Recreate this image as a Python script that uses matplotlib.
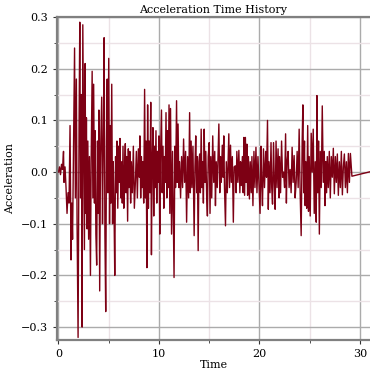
import matplotlib
matplotlib.use("Agg")
import matplotlib.pyplot as plt
from matplotlib.ticker import MultipleLocator

time = [0.00,0.10,0.20,0.30,0.40,0.50,0.55,0.65,0.75,0.85,0.95,1.05,1.15,1.25,1.32,1.40,1.50,1.60,1.68,1.78,
1.85,1.95,2.05,2.12,2.20,2.28,2.35,2.42,2.50,2.58,2.65,2.72,2.78,2.85,2.92,3.00,3.08,3.18,3.25,3.35,
3.42,3.50,3.58,3.65,3.72,3.80,3.88,3.95,4.02,4.10,4.18,4.30,4.38,4.46,4.54,4.62,4.70,4.78,4.85,4.92,
5.00,5.08,5.15,5.22,5.30,5.38,5.45,5.52,5.60,5.68,5.75,5.82,5.90,5.98,6.05,6.12,6.20,6.28,6.35,6.42,
6.50,6.58,6.65,6.72,6.80,6.88,6.95,7.02,7.10,7.18,7.25,7.35,7.45,7.55,7.65,7.75,7.85,7.95,8.05,8.10,
8.18,8.25,8.32,8.40,8.48,8.57,8.65,8.72,8.80,8.87,8.95,9.02,9.10,9.18,9.25,9.32,9.40,9.48,9.55,9.62,
9.70,9.78,9.85,9.92,10.00,10.08,10.15,10.25,10.32,10.40,10.48,10.55,10.62,10.70,10.78,10.85,10.92,11.00,11.08,11.15,
11.25,11.35,11.50,11.58,11.65,11.75,11.82,11.90,11.98,12.05,12.15,12.25,12.35,12.45,12.55,12.65,12.75,12.85,12.95,13.05,
13.12,13.20,13.28,13.38,13.50,13.58,13.66,13.75,13.82,13.90,13.98,14.05,14.12,14.20,14.28,14.35,14.42,14.50,14.58,14.66,
14.75,14.82,14.90,15.00,15.08,15.16,15.25,15.35,15.45,15.55,15.62,15.70,15.80,15.96,16.05,16.12,16.20,16.30,16.38,16.45,
16.52,16.62,16.70,16.80,16.95,17.02,17.12,17.20,17.30,17.40,17.48,17.60,17.68,17.75,17.85,17.95,18.05,18.12,18.20,18.30,
18.38,18.45,18.52,18.60,18.68,18.75,18.82,18.90,19.00,19.08,19.18,19.25,19.35,19.45,19.55,19.65,19.75,19.85,20.06,20.15,
20.22,20.30,20.40,20.50,20.62,20.70,20.80,20.88,20.95,21.05,21.15,21.22,21.30,21.40,21.48,21.56,21.65,21.75,21.85,21.95,
22.00,22.10,22.20,22.30,22.40,22.50,22.60,22.68,22.75,22.85,22.95,23.05,23.15,23.25,23.35,23.45,23.55,23.65,23.75,23.85,
23.95,24.05,24.15,24.25,24.32,24.40,24.48,24.55,24.62,24.70,24.80,24.88,24.95,25.05,25.15,25.25,25.35,25.45,25.55,25.65,
25.72,25.80,25.88,25.96,26.05,26.15,26.25,26.35,26.45,26.52,26.60,26.68,26.75,26.85,26.95,27.05,27.15,27.25,27.35,27.45,
27.55,27.65,27.75,27.85,27.95,28.05,28.15,28.25,28.35,28.45,28.55,28.65,28.75,28.85,28.95,29.05,29.20,31.30]

accel = [0.000,0.010,-0.005,0.015,0.005,0.040,-0.020,0.010,-0.030,-0.080,-0.040,-0.060,0.090,-0.170,-0.060,-0.130,0.050,0.240,-0.050,0.180,
-0.100,-0.320,0.100,0.290,-0.050,0.150,-0.300,0.285,0.060,-0.150,0.210,-0.080,0.105,-0.110,0.060,-0.130,0.030,-0.200,0.020,0.195,
-0.050,0.170,-0.060,0.080,-0.120,-0.180,0.060,-0.080,0.120,-0.230,0.030,0.145,-0.100,0.050,0.260,-0.120,-0.270,0.060,0.180,-0.040,
0.220,-0.100,0.090,-0.060,0.170,-0.100,0.020,-0.060,-0.200,0.030,-0.040,0.060,-0.070,0.050,-0.020,0.065,-0.050,0.020,-0.060,0.050,
-0.070,0.010,0.055,-0.040,0.030,-0.095,0.045,-0.030,0.040,-0.060,0.020,-0.040,0.050,-0.070,-0.020,0.040,-0.050,0.045,-0.010,0.070,
-0.050,0.030,-0.030,0.020,-0.060,0.160,-0.050,0.060,-0.185,0.130,-0.070,0.060,-0.040,0.135,-0.160,0.020,0.086,-0.085,0.050,-0.030,
0.080,-0.060,0.040,-0.020,0.070,-0.120,0.030,0.120,-0.040,0.050,-0.070,0.030,-0.020,0.115,-0.050,0.080,-0.030,0.130,-0.080,0.123,
-0.120,0.040,-0.204,0.050,-0.030,0.138,-0.020,0.093,-0.030,0.020,-0.050,0.030,-0.030,0.064,-0.020,0.040,-0.097,0.030,-0.050,0.115,
-0.040,0.060,-0.030,0.050,-0.123,0.010,0.070,-0.040,0.030,-0.152,0.020,0.035,-0.040,0.083,-0.030,0.020,-0.060,0.083,-0.020,0.040,
-0.050,-0.085,0.030,0.057,-0.080,0.030,-0.050,0.070,-0.020,0.040,-0.065,0.020,-0.030,0.093,-0.040,0.030,-0.020,0.052,-0.010,0.070,
-0.030,-0.104,0.020,-0.040,0.074,-0.030,0.052,-0.020,0.030,-0.097,0.010,0.012,-0.040,0.040,-0.020,0.042,-0.040,0.020,-0.026,0.030,
-0.040,0.067,-0.045,0.067,-0.020,0.054,-0.045,0.030,-0.052,0.020,-0.040,0.030,-0.065,0.040,-0.030,0.048,-0.040,0.030,-0.080,0.050,
-0.020,-0.065,0.045,-0.030,0.040,-0.010,0.100,-0.072,0.020,-0.040,0.057,-0.030,-0.062,0.057,-0.020,-0.072,0.060,-0.030,0.045,-0.050,
0.030,-0.040,0.060,-0.010,0.000,-0.030,0.074,-0.060,0.020,0.040,-0.030,0.005,-0.040,0.048,-0.020,0.032,-0.050,-0.020,0.040,-0.030,
0.083,-0.040,-0.123,0.060,0.130,-0.040,0.060,-0.065,0.020,-0.070,0.090,-0.076,0.030,-0.085,0.075,0.000,0.083,-0.080,0.020,-0.097,
0.148,-0.040,0.060,-0.120,0.040,-0.030,0.128,-0.020,0.040,-0.065,0.020,-0.040,0.030,-0.030,0.040,-0.050,0.030,-0.010,0.046,-0.042,
0.030,-0.020,0.035,-0.045,0.020,-0.030,0.040,-0.044,0.010,0.035,-0.030,0.020,-0.040,0.036,-0.020,0.036,-0.008,0.002]

title = "Acceleration Time History"
xlabel = "Time"
ylabel = "Acceleration"

plt.rcParams['font.family'] = ['DejaVu Serif']
fig = plt.figure(figsize=(3.7, 3.7), dpi=100)
ax = fig.add_axes([0.154, 0.081, 0.846, 0.873])

ax.plot(time, accel, color='#7d0014', linewidth=1.0)

ax.set_xlim(-0.15, 31.0)
ax.set_ylim(-0.325, 0.30)
ax.xaxis.set_major_locator(MultipleLocator(10))
ax.xaxis.set_minor_locator(MultipleLocator(5))
ax.yaxis.set_major_locator(MultipleLocator(0.1))
ax.yaxis.set_minor_locator(MultipleLocator(0.05))

ax.grid(which='major', color='#ababab', linewidth=1.0)
ax.grid(which='minor', color='#ece2e6', linewidth=1.0)
ax.set_axisbelow(True)

for s in ['left', 'bottom', 'top']:
    ax.spines[s].set_color('#808080')
    ax.spines[s].set_linewidth(1.6)
ax.spines['right'].set_visible(False)

ax.tick_params(which='major', direction='out', length=3, width=0.8, colors='#333333', labelsize=8, labelcolor='black')
ax.tick_params(which='minor', direction='out', length=2, width=0.6, colors='#333333')

ax.set_title(title, fontsize=8, pad=3)
ax.set_xlabel(xlabel, fontsize=8, labelpad=1)
ax.set_ylabel(ylabel, fontsize=8, labelpad=4)

fig.savefig("out.png", dpi=100)
